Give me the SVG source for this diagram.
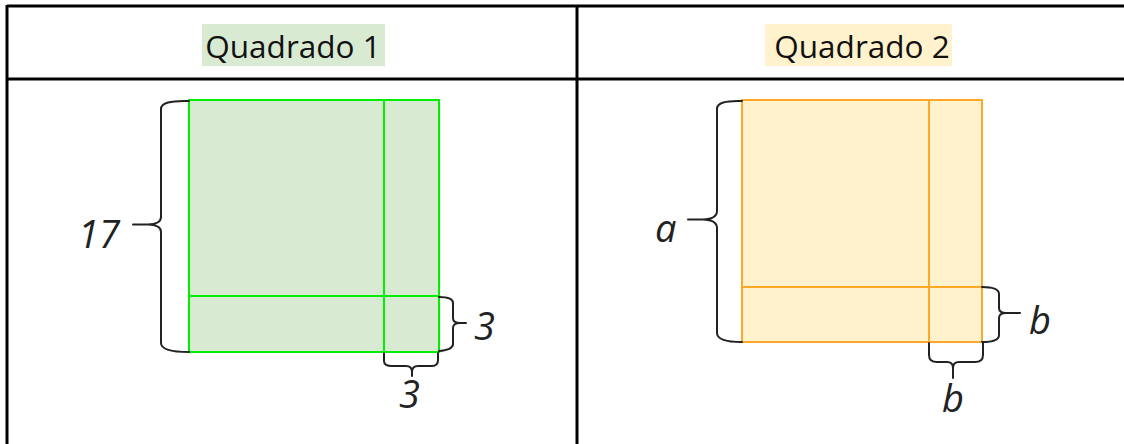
<svg xmlns="http://www.w3.org/2000/svg" width="1124" height="444" viewBox="0 0 1124 444">
<style>
.grid{stroke:#000;stroke-width:3;fill:none}
.hdr{font-family:"Open Sans","Liberation Sans",sans-serif;font-size:31.5px;fill:#111}
.lbl{font-family:"Open Sans","Liberation Sans",sans-serif;font-style:italic;font-size:38px;fill:#222}
.brace{stroke:#222;stroke-width:2;fill:none;stroke-linecap:round;stroke-linejoin:round}
.g{fill:#d9ead3;stroke:#00ee00;stroke-width:2}
.o{fill:#fff2cc;stroke:#ffa726;stroke-width:2}
</style>
<rect width="1124" height="444" fill="#fff"/>
<g id="table">
<line class="grid" x1="7" y1="6" x2="1124" y2="6"/>
<line class="grid" x1="7" y1="79" x2="1124" y2="79"/>
<line class="grid" x1="7" y1="5" x2="7" y2="444"/>
<line class="grid" x1="577" y1="5" x2="577" y2="444"/>
</g>
<g id="header1">
<rect x="202" y="24" width="183" height="42" fill="#d9ead3"/>
<text class="hdr" x="293" y="57.5" text-anchor="middle">Quadrado 1</text>
</g>
<g id="header2">
<rect x="765" y="24" width="187" height="42" fill="#fff2cc"/>
<text class="hdr" x="862" y="57.5" text-anchor="middle">Quadrado 2</text>
</g>
<g id="square1">
<rect class="g" x="189" y="100" width="250" height="252"/>
<line class="g" x1="384" y1="100" x2="384" y2="352"/>
<line class="g" x1="189" y1="296" x2="439" y2="296"/>
</g>
<g id="square2">
<rect class="o" x="742" y="100" width="240" height="242"/>
<line class="o" x1="929" y1="100" x2="929" y2="342"/>
<line class="o" x1="742" y1="287" x2="982" y2="287" stroke-width="3"/>
</g>
<g id="connectors">
<path class="brace" d="M189,101 Q161,100 161,109 L161,217 Q161,224 148,224.5 L133,224.5 M148,224.5 Q161,225 161,232 L161,343 Q161,352 189,352"/>
<path class="brace" d="M439,297 Q453,297 453,303 L453,318 Q453,323 460,323 L466,323 M460,323 Q453,323 453,328 L453,344 Q453,350 439,351"/>
<path class="brace" d="M384,353 L384,361 Q384,366 392,366 L406,366 Q412,366 412,372 L412,376 M412,372 Q412,366 418,366 L432,366 Q438,366 438,360 L438,353"/>
<path class="brace" d="M742,101 Q717,100 717,109 L717,211 Q717,219 703,219.5 L688,219.5 M703,219.5 Q717,220 717,228 L717,333 Q717,342 742,342"/>
<path class="brace" d="M982,287 Q999,287 999,294 L999,308 Q999,313 1006,313 L1020,313 M1006,313 Q999,313 999,318 L999,335 Q999,342 982,342"/>
<path class="brace" d="M929,343 L929,355 Q929,362 937,362 L947,362 Q953,362 953,368 L953,378 M953,368 Q953,362 959,362 L975,362 Q983,362 983,355 L983,343"/>
</g>
<g id="labels">
<text class="lbl" x="78" y="248">17</text>
<text class="lbl" x="474" y="340">3</text>
<text class="lbl" x="399" y="408">3</text>
<text class="lbl" x="655" y="242">a</text>
<text class="lbl" x="1029" y="334">b</text>
<text class="lbl" x="942" y="412">b</text>
</g>
</svg>
